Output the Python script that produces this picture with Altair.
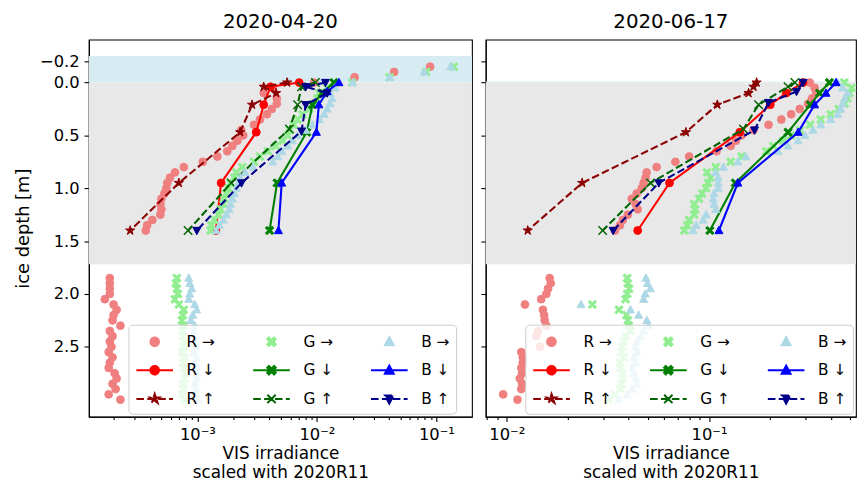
import altair as alt
import pandas as pd

FONT = "DejaVu Sans"

# ---------------- depth grids (m) ----------------
DEPTH_SIDE_UPPER_L = [-0.15, -0.10, -0.05, 0.00, 0.05, 0.10, 0.15, 0.20, 0.25, 0.30, 0.35, 0.40,
                      0.45, 0.50, 0.55, 0.60, 0.65, 0.70, 0.75, 0.80, 0.85, 0.90, 0.95, 1.00,
                      1.05, 1.10, 1.15, 1.20, 1.25, 1.30, 1.35, 1.40]
DEPTH_SIDE_UPPER_R = [0.00, 0.05, 0.10, 0.15, 0.20, 0.25, 0.30, 0.35, 0.40,
                      0.45, 0.50, 0.55, 0.60, 0.65, 0.70, 0.75, 0.80, 0.85, 0.90, 0.95, 1.00,
                      1.05, 1.10, 1.15, 1.20, 1.25, 1.30, 1.35, 1.40]
DEPTH_SIDE_LOWER = [1.85, 1.90, 1.95, 2.00, 2.05, 2.10, 2.15, 2.20, 2.25, 2.30, 2.35, 2.40,
                    2.45, 2.50, 2.55, 2.60, 2.65, 2.70, 2.75, 2.80, 2.85, 2.90, 2.95, 3.00]

# ---------------- panel 1: 2020-04-20 ----------------
L_R_SIDE = [0.0887, 0.0443, 0.0207, 0.00948, 0.00429, 0.00359, 0.00462, 0.00462, 0.0042, 0.00382,
            0.00334, 0.00298, 0.00233, 0.00242, 0.00216, 0.00196, 0.00178, 0.00147, 0.00111, 0.00077,
            0.00065, 0.00059, 0.00056, 0.00055, 0.00053, 0.0005, 0.00049, 0.0005, 0.00049, 0.00042,
            0.00038, 0.00037,
            1.85e-4, 1.85e-4, 1.85e-4, 1.85e-4, 1.68e-4, 1.99e-4, 2.11e-4, 1.99e-4, 1.95e-4, 2.27e-4,
            1.85e-4, 1.95e-4, 1.85e-4, 1.91e-4, 1.81e-4, 1.95e-4, 1.85e-4, 1.81e-4, 2.03e-4, 2.11e-4,
            1.95e-4, 2.07e-4, 1.81e-4, 2.27e-4]
L_G_SIDE = [0.14, 0.0822, 0.0406, 0.0197, 0.0122, 0.0105, 0.0101, 0.00972, 0.00867, 0.00759,
            0.0069, 0.00639, 0.00592, 0.0057, 0.00518, 0.00453, 0.00389, 0.00334, 0.00298, 0.00237,
            0.00212, 0.00204, 0.00189, 0.00182, 0.00175, 0.00168, 0.00165, 0.00156, 0.0015, 0.00139,
            0.00131, 0.00129,
            6.74e-4, 6.6e-4, 6.74e-4, 6.87e-4, 6.49e-4, 7.0e-4, 7.7e-4, 7.56e-4, 7.42e-4, 7.7e-4,
            7.56e-4, 7.56e-4, 7.85e-4, 7.7e-4, 7.42e-4, 7.85e-4, 7.56e-4, 7.7e-4, 8.0e-4, 7.85e-4,
            7.56e-4, 7.7e-4, 7.42e-4, 7.85e-4]
L_B_SIDE = [0.132, 0.0791, 0.0406, 0.02, 0.0142, 0.0129, 0.0134, 0.0129, 0.0122, 0.0115,
            0.0105, 0.00918, 0.00803, 0.0069, 0.00627, 0.0057, 0.00508, 0.00471, 0.00428, 0.00292,
            0.00251, 0.00228, 0.0022, 0.00212, 0.00204, 0.00196, 0.00189, 0.00185, 0.00175, 0.00165,
            0.00153, 0.00144,
            8.47e-4, 8.63e-4, 8.97e-4, 8.63e-4, 8.47e-4, 9.5e-4, 9.87e-4, 9.14e-4, 8.8e-4, 9.5e-4,
            9.32e-4, 9.14e-4, 9.5e-4, 9.68e-4, 9.32e-4, 9.87e-4, 9.5e-4, 9.68e-4, 1.0e-3, 9.87e-4,
            9.5e-4, 9.68e-4, 9.32e-4, 1.02e-3]

L_R_DOWN_DEPTH = [0.0, 0.04, 0.21, 0.47, 0.95, 1.40]
L_R_DOWN = [7.12e-3, 4.1e-3, 3.59e-3, 3.11e-3, 1.58e-3, 1.43e-3]
L_R_UP_DEPTH = [0.0, 0.04, 0.10, 0.21, 0.47, 0.95, 1.40]
L_R_UP = [5.64e-3, 3.59e-3, 4.56e-3, 2.87e-3, 2.28e-3, 7.0e-4, 2.74e-4]
L_G_DOWN_DEPTH = [0.0, 0.10, 0.21, 0.47, 0.95, 1.40]
L_G_DOWN = [0.0139, 0.0111, 9.18e-3, 8.23e-3, 4.65e-3, 4.02e-3]
L_G_UP_DEPTH = [0.0, 0.04, 0.21, 0.44, 0.95, 1.40]
L_G_UP = [9.72e-3, 7.44e-3, 6.9e-3, 5.89e-3, 1.92e-3, 8.36e-4]
L_B_DOWN_DEPTH = [0.0, 0.085, 0.21, 0.47, 0.95, 1.40]
L_B_DOWN = [0.0153, 0.0122, 0.0104, 9.91e-3, 5.08e-3, 4.77e-3]
L_B_UP_DEPTH = [0.0, 0.04, 0.10, 0.21, 0.46, 0.95, 1.40]
L_B_UP = [0.0118, 8.07e-3, 0.0122, 8.07e-3, 7.44e-3, 2.34e-3, 9.9e-4]

# ---------------- panel 2: 2020-06-17 ----------------
R_R_SIDE = [0.315, 0.333, 0.339, 0.323, 0.309, 0.281, 0.255, 0.228, 0.197, 0.166, 0.145, 0.136,
            0.128, 0.109, 0.0798, 0.0682, 0.0551, 0.0492, 0.0486, 0.0475, 0.0465, 0.0439, 0.0415,
            0.0434, 0.0444, 0.0397, 0.0375, 0.0363, 0.0343,
            0.0163, 0.0165, 0.016, 0.0157, 0.0148, 0.0123, 0.0151, 0.0153, 0.0154, 0.0157, 0.0143,
            0.014, 0.0163, 0.0146, 0.0118, 0.012, 0.012, 0.0118, 0.0119, 0.0116, 0.0119, 0.0118,
            0.0096, 0.0113]
R_G_SIDE = [0.467, 0.508, 0.495, 0.484, 0.469, 0.438, 0.4, 0.357, 0.316, 0.282, 0.255, 0.233,
            0.208, 0.192, 0.145, 0.128, 0.108, 0.0978, 0.102, 0.0989, 0.0967, 0.0925, 0.0893,
            0.0845, 0.0855, 0.0845, 0.0798, 0.078, 0.0755,
            0.0394, 0.0397, 0.0403, 0.0394, 0.0387, 0.0265, 0.0359, 0.0391, 0.0397, 0.0402, 0.0409,
            0.0387, 0.0379, 0.0372, 0.0368, 0.0379, 0.0362, 0.0365, 0.0372, 0.0376, 0.0368, 0.0365,
            0.0343, 0.032]
R_B_SIDE = [0.433, 0.458, 0.484, 0.469, 0.458, 0.448, 0.433, 0.4, 0.357, 0.327, 0.299, 0.276,
            0.246, 0.22, 0.152, 0.139, 0.118, 0.108, 0.111, 0.111, 0.111, 0.106, 0.105, 0.106,
            0.108, 0.0967, 0.0935, 0.0864, 0.0835,
            0.0488, 0.0497, 0.0513, 0.0484, 0.0475, 0.0233, 0.0409, 0.0449, 0.0493, 0.0501, 0.0475,
            0.0458, 0.0441, 0.0433, 0.0441, 0.0425, 0.0433, 0.0417, 0.0425, 0.0433, 0.0441, 0.0417,
            0.0394, 0.0359]

R_R_DOWN_DEPTH = [0.0, 0.10, 0.21, 0.47, 0.95, 1.40]
R_R_DOWN = [0.292, 0.241, 0.201, 0.142, 0.0638, 0.0444]
R_R_UP_DEPTH = [0.0, 0.04, 0.10, 0.21, 0.47, 0.95, 1.40]
R_R_UP = [0.172, 0.166, 0.157, 0.11, 0.0769, 0.0236, 0.0127]
R_G_DOWN_DEPTH = [0.0, 0.10, 0.21, 0.47, 0.95, 1.40]
R_G_DOWN = [0.394, 0.352, 0.317, 0.246, 0.135, 0.101]
R_G_UP_DEPTH = [0.0, 0.04, 0.21, 0.44, 0.95, 1.40]
R_G_UP = [0.266, 0.246, 0.176, 0.148, 0.0514, 0.0298]
R_B_DOWN_DEPTH = [0.0, 0.10, 0.21, 0.47, 0.95, 1.40]
R_B_DOWN = [0.425, 0.379, 0.333, 0.276, 0.139, 0.112]
R_B_UP_DEPTH = [0.0, 0.085, 0.19, 0.45, 0.95, 1.40]
R_B_UP = [0.292, 0.271, 0.197, 0.168, 0.0565, 0.0336]

# background layers: snow (light blue) and ice (grey) depth ranges
L_BANDS_TOP = [-0.25, 0.0]
L_BANDS_BOTTOM = [0.0, 1.72]
R_BANDS_TOP = [-0.01, 0.0]
R_BANDS_BOTTOM = [0.0, 1.72]
BAND_COLORS = ["#d6ebf2", "#e8e8e8"]

TITLES = ["2020-04-20", "2020-06-17"]
X_DOMAINS = [[1.236e-4, 0.1986], [7.87e-3, 0.533]]
X_TICKS = [
    [2e-4, 3e-4, 4e-4, 5e-4, 6e-4, 7e-4, 8e-4, 9e-4, 1e-3, 2e-3, 3e-3, 4e-3, 5e-3, 6e-3, 7e-3,
     8e-3, 9e-3, 1e-2, 2e-2, 3e-2, 4e-2, 5e-2, 6e-2, 7e-2, 8e-2, 9e-2, 1e-1],
    [8e-3, 9e-3, 1e-2, 2e-2, 3e-2, 4e-2, 5e-2, 6e-2, 7e-2, 8e-2, 9e-2, 1e-1, 2e-1, 3e-1, 4e-1, 5e-1],
]
Y_DOMAIN = [-0.406, 3.162]
Y_TICKS = [-0.2, 0.0, 0.5, 1.0, 1.5, 2.0, 2.5]

# ---------------- marker shapes (unit square paths) ----------------
def poly(pts, s=1.0):
    return "M" + "L".join(f"{x * s:.3f},{y * s:.3f}" for x, y in pts) + "Z"

def circ(s):
    return f"M{-s:.3f},0A{s:.3f},{s:.3f} 0 1,0 {s:.3f},0A{s:.3f},{s:.3f} 0 1,0 {-s:.3f},0Z"

def xthin(s):
    return f"M{-s},{-s}L{s},{s}M{-s},{s}L{s},{-s}"

def xarms(s):
    # four short arms from the centre, so a dash pattern never breaks them
    return "".join(f"M0,0L{dx * s},{dy * s}" for dx, dy in [(1, 1), (-1, 1), (1, -1), (-1, -1)])

XF_PTS = [(-1, -0.6), (-0.6, -1), (0, -0.4), (0.6, -1), (1, -0.6), (0.4, 0), (1, 0.6), (0.6, 1),
          (0, 0.4), (-0.6, 1), (-1, 0.6), (-0.4, 0)]
STAR_PTS = [(0, -1), (0.223, -0.307), (0.951, -0.309), (0.361, 0.117), (0.588, 0.809), (0, 0.38),
            (-0.588, 0.809), (-0.361, 0.117), (-0.951, -0.309), (-0.223, -0.307)]
TU_PTS = [(0, -1), (0.95, 0.75), (-0.95, 0.75)]
TD_PTS = [(0, 1), (0.95, -0.75), (-0.95, -0.75)]

SHAPE = {"circle": "circle", "xf": poly(XF_PTS), "star": poly(STAR_PTS), "tu": poly(TU_PTS),
         "td": poly(TD_PTS), "x": xthin(1)}

# series: name, colour, marker, line style (None: scatter only)
SERIES = [
    ("R →", "#f08080", "circle", None),
    ("R ↓", "#ff0000", "circle", "solid"),
    ("R ↑", "#8b0000", "star", "dash"),
    ("G →", "#90ee90", "xf", None),
    ("G ↓", "#008000", "xf", "solid"),
    ("G ↑", "#006400", "x", "dash"),
    ("B →", "#add8e6", "tu", None),
    ("B ↓", "#0000ff", "tu", "solid"),
    ("B ↑", "#00008b", "td", "dash"),
]
LEGEND_ORDER = [s[0] for s in SERIES]   # legend fills column by column
DASH = [7.7, 3.3]


def build_df(upper, side, lines):
    rows = []
    depths = upper + DEPTH_SIDE_LOWER
    for name, vals in side.items():
        for d, v in zip(depths, vals):
            rows.append({"series": name, "depth": d, "val": v})
    for name, (ds, vals) in lines.items():
        for d, v in zip(ds, vals):
            rows.append({"series": name, "depth": d, "val": v})
    return pd.DataFrame(rows)


df_left = build_df(DEPTH_SIDE_UPPER_L, {"R →": L_R_SIDE, "G →": L_G_SIDE, "B →": L_B_SIDE},
                   {"R ↓": (L_R_DOWN_DEPTH, L_R_DOWN), "R ↑": (L_R_UP_DEPTH, L_R_UP),
                    "G ↓": (L_G_DOWN_DEPTH, L_G_DOWN), "G ↑": (L_G_UP_DEPTH, L_G_UP),
                    "B ↓": (L_B_DOWN_DEPTH, L_B_DOWN), "B ↑": (L_B_UP_DEPTH, L_B_UP)})
df_right = build_df(DEPTH_SIDE_UPPER_R, {"R →": R_R_SIDE, "G →": R_G_SIDE, "B →": R_B_SIDE},
                    {"R ↓": (R_R_DOWN_DEPTH, R_R_DOWN), "R ↑": (R_R_UP_DEPTH, R_R_UP),
                     "G ↓": (R_G_DOWN_DEPTH, R_G_DOWN), "G ↑": (R_G_UP_DEPTH, R_G_UP),
                     "B ↓": (R_B_DOWN_DEPTH, R_B_DOWN), "B ↑": (R_B_UP_DEPTH, R_B_UP)})

# legend symbols (line segment + marker)
LS = 0.43
LINE = "M-1.85,0H1.85"
LEG_SHAPE = {
    "R →": circ(LS), "R ↓": LINE + circ(LS), "R ↑": LINE + poly(STAR_PTS, 0.5),
    "G →": poly(XF_PTS, LS), "G ↓": LINE + poly(XF_PTS, LS), "G ↑": LINE + xarms(0.42),
    "B →": poly(TU_PTS, 0.47), "B ↓": LINE + poly(TU_PTS, 0.47), "B ↑": LINE + poly(TD_PTS, 0.47),
}
COLOR_OF = {s[0]: s[1] for s in SERIES}
STYLE_OF = {s[0]: s[3] for s in SERIES}

MAJOR = "abs(log(datum.value)/LN10 - round(log(datum.value)/LN10)) < 0.001"
EXP = "round(log(datum.value)/LN10)"
X_LABEL = (f"{MAJOR} ? '10' + ({EXP} == -3 ? '⁻³' : {EXP} == -2 ? '⁻²' : {EXP} == -1 ? '⁻¹' : '⁰') : ''")


def panel(i, df, bands_top, bands_bottom, show_y):
    xenc = alt.X("val:Q",
                 scale=alt.Scale(type="log", domain=X_DOMAINS[i], nice=False),
                 axis=alt.Axis(values=X_TICKS[i], labelExpr=X_LABEL, labelOverlap=False,
                               labelFlush=False, grid=False, labelFontSize=16.5, labelPadding=4.8,
                               tickSize={"condition": {"test": MAJOR, "value": 4.9}, "value": 2.8},
                               title=["VIS irradiance", "scaled with 2020R11"],
                               titleFontSize=17, titlePadding=2.5, titleLineHeight=19.5))
    yaxis = dict(values=Y_TICKS, grid=False, tickSize=4.9, labelPadding=4.9, labelFontSize=16.5,
                 format=".1f")
    if show_y:
        yaxis.update(title="ice depth [m]", titleFontSize=18, titlePadding=7.5)
    else:
        yaxis.update(labels=False, title=None)
    yscale = alt.Scale(domain=Y_DOMAIN, reverse=True, nice=False, zero=False)
    yenc = alt.Y("depth:Q", scale=yscale, axis=alt.Axis(**yaxis))

    band_df = pd.DataFrame({"top": bands_top, "bottom": bands_bottom, "c": BAND_COLORS})
    layers = [alt.Chart(band_df).mark_rect().encode(
        y=alt.Y("top:Q", scale=yscale, axis=alt.Axis(**yaxis)), y2="bottom:Q",
        color=alt.Color("c:N", scale=None))]

    for name, color, marker, style in SERIES:
        sub = alt.Chart(df).transform_filter(alt.datum.series == name)
        if style is not None:
            kw = dict(color=color, strokeWidth=2.1, opacity=1)
            if style == "dash":
                kw["strokeDash"] = DASH
            layers.append(sub.mark_line(**kw).encode(x=xenc, y=yenc, order="depth:Q"))
        size = 62 if marker == "circle" else (95 if marker == "star" else 72)
        if marker == "x":
            pm = sub.mark_point(shape=SHAPE[marker], filled=False, stroke=color, strokeWidth=1.5,
                                size=size, opacity=1)
        else:
            pm = sub.mark_point(shape=SHAPE[marker], filled=True, fill=color, stroke=color,
                                strokeWidth=1, size=size, opacity=1)
        layers.append(pm.encode(x=xenc, y=yenc))

    legend = alt.Legend(title=None, orient="none", legendX=40, legendY=288, columns=3,
                        symbolSize=400, symbolStrokeWidth=2, symbolOffset=9.5, labelOffset=21.2,
                        labelFontSize=15.5, labelFont=FONT, labelColor="black", columnPadding=34,
                        rowPadding=9, padding=6, fillColor="rgba(255,255,255,0.8)",
                        strokeColor="#cccccc", cornerRadius=4)
    leg_df = pd.DataFrame({"series": LEGEND_ORDER, "val": [None] * 9, "depth": [None] * 9})
    dom = LEGEND_ORDER
    layers.append(alt.Chart(leg_df).mark_point(opacity=1, filled=True).encode(
        x=xenc, y=yenc,
        fill=alt.Fill("series:N", scale=alt.Scale(domain=dom, range=[COLOR_OF[s] for s in dom]),
                      legend=legend),
        stroke=alt.Stroke("series:N", scale=alt.Scale(domain=dom, range=[COLOR_OF[s] for s in dom]),
                          legend=legend),
        shape=alt.Shape("series:N", scale=alt.Scale(domain=dom, range=[LEG_SHAPE[s] for s in dom]),
                        legend=legend),
        strokeDash=alt.StrokeDash("series:N",
                                  scale=alt.Scale(domain=dom,
                                                  range=[DASH if STYLE_OF[s] == "dash" else [1, 0]
                                                         for s in dom]),
                                  legend=legend),
    ))
    width = 387 if i == 0 else 374
    return alt.layer(*layers).properties(
        width=width, height=381,
        title=alt.TitleParams(TITLES[i], fontSize=20, font=FONT, fontWeight="normal",
                              anchor="middle", offset=7.5, color="black"))


left = panel(0, df_left, L_BANDS_TOP, L_BANDS_BOTTOM, True)
right = panel(1, df_right, R_BANDS_TOP, R_BANDS_BOTTOM, False)

chart = alt.hconcat(left, right, spacing=6.9).resolve_scale(
    fill="independent", stroke="independent", shape="independent", strokeDash="independent"
).properties(padding={"left": 5.7, "top": 0.5, "right": 0, "bottom": 0}).configure_axis(
    labelFont=FONT, titleFont=FONT, labelColor="black", titleColor="black", tickColor="black",
    domainColor="black", domainWidth=1.1, tickWidth=1.1, titleFontWeight="normal"
).configure_view(stroke="black", strokeWidth=1.1)

chart.save("out.html", embed_options={"renderer": "svg", "actions": False})
